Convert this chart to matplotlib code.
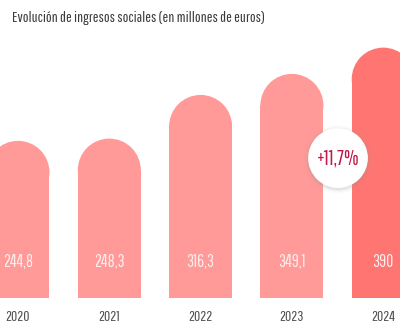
import matplotlib
matplotlib.use("Agg")
import matplotlib.pyplot as plt
from matplotlib.patches import Rectangle, Ellipse

# Datos: ingresos sociales por año (millones de euros)
years = ["2020", "2021", "2022", "2023", "2024"]
values = [244.8, 248.3, 316.3, 349.1, 390]
value_labels = ["244,8", "248,3", "316,3", "349,1", "390"]
growth_label = "+11,7%"

bar_color = "#FF9A98"
last_color = "#FF7572"
label_font = ["Pathway Gothic One", "Oswald", "Antonio",
              "Sofia Sans Extra Condensed", "DejaVu Sans"]

W, H, DPI = 400, 330, 100
fig = plt.figure(figsize=(W / DPI, H / DPI), dpi=DPI)
fig.patch.set_facecolor("white")

# ejes a todo lo ancho; la base de las barras queda a 298 px desde arriba
base_px = 298
ax = fig.add_axes([0, (H - base_px) / H, 1, base_px / H])
px_per_unit = 0.642
step_px = 91.3
first_px = 18
ax.set_xlim(-first_px / step_px, (W - first_px) / step_px)
ax.set_ylim(0, base_px / px_per_unit)
ax.axis("off")

bar_w = 0.69
# radio de la cúpula en unidades de datos (mismo radio en px en x e y)
r_x = bar_w / 2
r_y = r_x * step_px / px_per_unit

for i, (yr, v, lab) in enumerate(zip(years, values, value_labels)):
    col = last_color if i == len(years) - 1 else bar_color
    ax.add_patch(Rectangle((i - bar_w / 2, 0), bar_w, v - r_y,
                           facecolor=col, edgecolor="none"))
    ax.add_patch(Ellipse((i, v - r_y), bar_w, 2 * r_y,
                         facecolor=col, edgecolor="none"))
    ax.text(i, 56, lab, ha="center", va="center", color="#FCEDED",
            fontsize=12.5, family=label_font)
    ax.text(i, -29.5, yr, ha="center", va="center", color="#505050",
            fontsize=11, family=label_font, clip_on=False)

# círculo con la variación del último año, con sombra suave
cx, cy = 3.505, 218
for s, a in [(2400, 0.04), (2200, 0.06), (2050, 0.08), (1950, 0.10)]:
    ax.scatter([cx], [cy - 2], s=s, color="#999999", alpha=a,
               edgecolors="none", zorder=4)
ax.scatter([cx], [cy], s=1850, color="white", edgecolors="none", zorder=5)
ax.text(cx, cy, growth_label, ha="center", va="center", color="#C2184A",
        fontsize=15, fontweight="bold", family=label_font, zorder=6)

fig.text(0.03, 1 - 18 / H, "Evolución de ingresos sociales (en millones de euros)",
         ha="left", va="center", color="#3A3A3A", fontsize=11,
         family=label_font)

fig.savefig("out.png", dpi=DPI, facecolor="white")
